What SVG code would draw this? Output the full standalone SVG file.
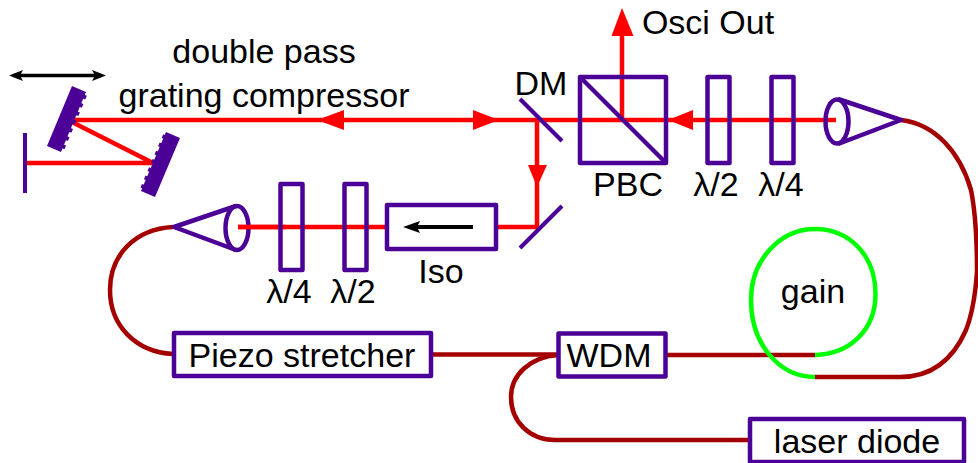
<svg xmlns="http://www.w3.org/2000/svg" width="978" height="463" viewBox="0 0 978 463">
<style>
.p{fill:none;stroke:#4b0096;stroke-width:4.5;stroke-linejoin:round}
.b{fill:#fff;stroke:#4b0096;stroke-width:4.5;stroke-linejoin:round}
.m{fill:none;stroke:#4b0096;stroke-width:4}
.g{fill:#4b0096;stroke:none}
.t{fill:none;stroke:#4b0096;stroke-width:4;stroke-dasharray:4 5}
.r{fill:none;stroke:#ff0000;stroke-width:4.500}
.f{fill:none;stroke:#a50000;stroke-width:4.500}
.v{fill:none;stroke:#00ff00;stroke-width:4.500}
.ra{fill:#ff0000}
text{font-family:"Liberation Sans",Arial,sans-serif;font-size:34px;fill:#000;text-anchor:middle}
</style>
<rect width="978" height="463" fill="#fff"/>
<g id="connectors">
<path class="f" d="M901 120C935 124 960 152 971 190C975 210 977 240 977 272C975 300 972 315 966 330C955 355 935 377 900 377H815"/>
<path class="f" d="M173 227C135 229 110 255 110 290C110 325 135 352 173 354"/>
<path class="f" d="M431 354.500H558"/>
<path class="f" d="M665 355H815"/>
<path class="f" d="M558 355C530 357 511 375 511 397C511 422 530 440 555 440H750"/>
<path class="v" d="M815 355C850 354 875.500 330 875.500 294C875.500 256 850 229 815 229C780 229 751 260 751 300C751 345 780 377 815 377"/>
<path class="r" d="M68 120H836"/>
<path class="r" d="M68 120L153 163H26"/>
<path class="r" d="M622 120V30"/>
<path class="r" d="M537 120V227H238"/>
<path class="ra" d="M622 8L633.500 36H611.500Z"/>
<path class="ra" d="M317 120L344 110V130Z"/>
<path class="ra" d="M499 120L473 110V130Z"/>
<path class="ra" d="M668 120L693 110V130Z"/>
<path class="ra" d="M537 187L528 165H547Z"/>
</g>
<g id="translation-arrow">
<path d="M14 75.500H101" fill="none" stroke="#000" stroke-width="3.500"/>
<path d="M9 75.500L23 70L20 75.500L23 81Z"/>
<path d="M106 75.500L92 70L95 75.500L92 81Z"/>
</g>
<g id="grating-1">
<path class="g" d="M72 86L86 92L61 152L47 146Z"/>
<path class="t" d="M85 95L62 150"/>
</g>
<g id="grating-2">
<path class="g" d="M166 132L180 138L155 197L141 191Z"/>
<path class="t" d="M165 135L142 189"/>
</g>
<g id="end-mirror"><path d="M25 133V193" fill="none" stroke="#4b0096" stroke-width="4"/></g>
<g id="dm"><path class="m" d="M520 99L562 141"/><text x="541" y="95">DM</text></g>
<g id="fold-mirror"><path class="m" d="M562 206L520 248"/></g>
<g id="pbc">
<rect class="p" x="580" y="77" width="86" height="86"/>
<path class="p" d="M580 77L666 163"/>
<text x="628" y="196">PBC</text>
</g>
<g id="hwp-1"><rect class="p" x="707.500" y="77" width="22" height="86"/><text x="716" y="196">λ/2</text></g>
<g id="qwp-1"><rect class="p" x="771.500" y="77" width="22" height="86"/><text x="781" y="196">λ/4</text></g>
<g id="collimator-1">
<path class="p" d="M838 99L901 120L838 144"/>
<ellipse class="p" cx="837" cy="121.500" rx="11.500" ry="22"/>
</g>
<g id="collimator-2">
<path class="p" d="M236 206L174 227L236 250"/>
<ellipse class="p" cx="237" cy="228" rx="11.500" ry="22"/>
</g>
<path class="r" d="M238 227H286"/>
<g id="qwp-2"><rect class="p" x="280.500" y="184" width="22" height="86"/><text x="289" y="303">λ/4</text></g>
<g id="hwp-2"><rect class="p" x="344.500" y="184" width="22" height="86"/><text x="353" y="303">λ/2</text></g>
<g id="iso">
<rect class="b" x="387" y="205" width="109" height="44"/>
<path d="M473 227H415" fill="none" stroke="#000" stroke-width="4"/>
<path d="M403 227L420 221L417 227L420 233Z"/>
<text x="441" y="283">Iso</text>
</g>
<g id="piezo"><rect class="b" x="174" y="333" width="257" height="43"/><text x="302" y="367">Piezo stretcher</text></g>
<g id="wdm"><rect class="b" x="558.500" y="333.500" width="107" height="43"/><text x="609" y="367">WDM</text></g>
<g id="gain"><text x="813" y="303">gain</text></g>
<g id="laser"><rect class="b" x="750" y="419" width="214" height="43"/><text x="857" y="453">laser diode</text></g>
<text x="264" y="63">double pass</text>
<text x="264" y="107">grating compressor</text>
<text x="708" y="34">Osci Out</text>
</svg>
